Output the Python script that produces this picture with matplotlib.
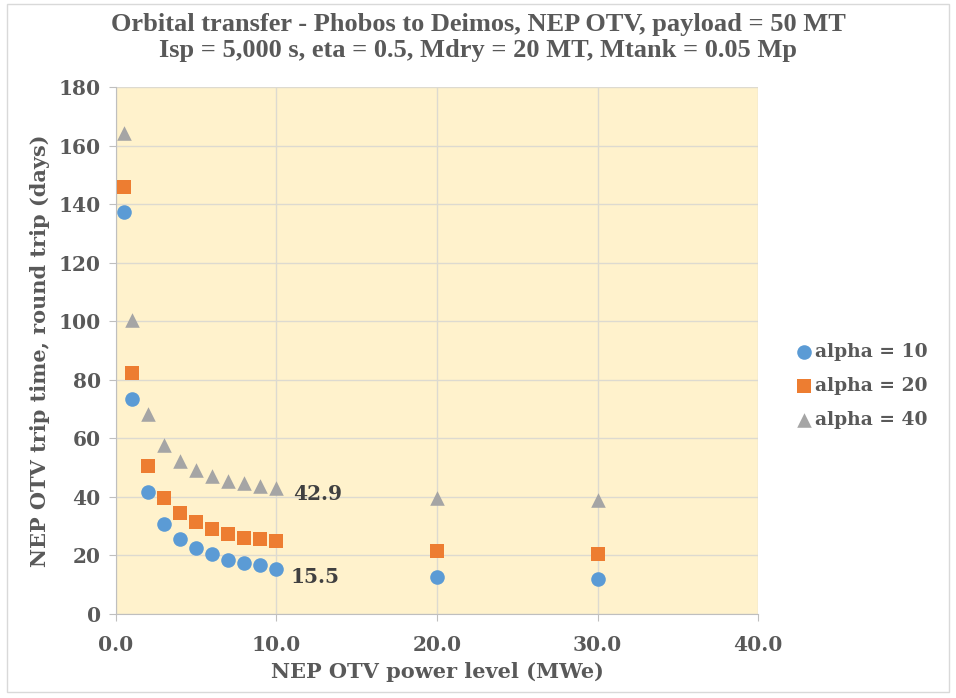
import matplotlib
matplotlib.use("Agg")
import matplotlib.pyplot as plt
from matplotlib.patches import Rectangle

# NEP OTV power level (MWe)
power = [0.5, 1, 2, 3, 4, 5, 6, 7, 8, 9, 10, 20, 30]

# round trip time (days) per alpha
alpha10 = [137.2, 73.5, 41.7, 30.9, 25.5, 22.4, 20.4, 18.6, 17.5, 16.6, 15.5, 12.8, 11.8]
alpha20 = [146.0, 82.2, 50.4, 39.6, 34.5, 31.3, 29.0, 27.5, 26.1, 25.5, 24.8, 21.5, 20.4]
alpha40 = [164.2, 100.4, 68.4, 57.8, 52.3, 49.1, 47.1, 45.5, 44.6, 43.6, 42.9, 39.6, 38.9]

labels = ["alpha = 10", "alpha = 20", "alpha = 40"]
last_labels = ["42.9", "15.5"]

TXT = "#595959"
SERIF = "DejaVu Serif"

fig = plt.figure(figsize=(9.56, 6.98), dpi=100)
fig.patches.append(Rectangle((7 / 956, 6 / 698), 942 / 956, 688 / 698,
                             transform=fig.transFigure, fill=False,
                             edgecolor="#D9D9D9", lw=1))
ax = fig.add_axes([0.1213, 0.1203, 0.6716, 0.7551])
ax.set_facecolor("#FFF2CC")

ax.scatter(power, alpha10, marker="o", s=110, color="#5B9BD5", label=labels[0], zorder=3, linewidths=0)
ax.scatter(power, alpha20, marker="s", s=110, color="#ED7D31", label=labels[1], zorder=3, linewidths=0)
ax.scatter(power, alpha40, marker="^", s=110, color="#A5A5A5", label=labels[2], zorder=3, linewidths=0)

ax.annotate(last_labels[0], (power[10], alpha40[10]), xytext=(12, -4),
            textcoords="offset points", va="center", ha="left",
            fontsize=14.5, fontweight="bold", color="#404040", family=SERIF)
ax.annotate(last_labels[1], (power[10], alpha10[10]), xytext=(10, -6),
            textcoords="offset points", va="center", ha="left",
            fontsize=14.5, fontweight="bold", color="#404040", family=SERIF)

ax.set_xlim(0, 40)
ax.set_ylim(0, 180)
ax.set_xticks([0, 10, 20, 30, 40])
ax.set_xticklabels(["0.0", "10.0", "20.0", "30.0", "40.0"])
ax.set_yticks(range(0, 181, 20))
ax.grid(True, color="#DDDAD0", lw=1)
ax.set_axisbelow(True)
for s in ["top", "right"]:
    ax.spines[s].set_visible(False)
for s in ["left", "bottom"]:
    ax.spines[s].set_color("#BFBFBF")
ax.tick_params(colors="#BFBFBF", length=5, labelcolor=TXT, labelsize=14.5)
ax.tick_params(axis="x", pad=10)
ax.tick_params(axis="y", pad=6)
for lab in ax.get_xticklabels() + ax.get_yticklabels():
    lab.set_family(SERIF)
    lab.set_fontweight("bold")

ax.set_xlabel("NEP OTV power level (MWe)", fontsize=15, fontweight="bold",
              color=TXT, family=SERIF, labelpad=5)
ax.set_ylabel("NEP OTV trip time, round trip (days)", fontsize=15, fontweight="bold",
              color=TXT, family=SERIF, labelpad=6)

fig.text(0.5, 0.982, "Orbital transfer - Phobos to Deimos, NEP OTV, payload = 50 MT\n"
         "Isp = 5,000 s, eta = 0.5, Mdry = 20 MT, Mtank = 0.05 Mp",
         ha="center", va="top", fontsize=19, fontweight="bold", color=TXT,
         family="Liberation Serif", linespacing=1.2)

leg = ax.legend(loc="center left", bbox_to_anchor=(1.03, 0.432), frameon=False,
                prop={"family": SERIF, "weight": "bold", "size": 13.5},
                handletextpad=0.1, labelspacing=0.85, handlelength=1.0)
for t in leg.get_texts():
    t.set_color(TXT)

fig.savefig("out.png", dpi=100)
